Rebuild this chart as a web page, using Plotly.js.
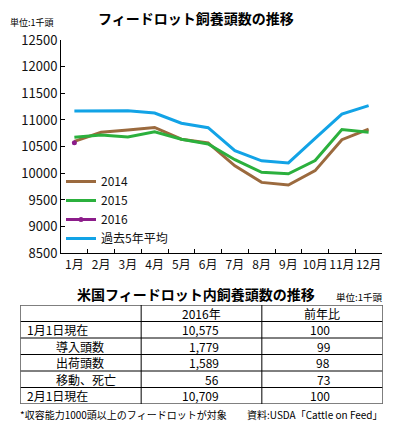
<!DOCTYPE html>
<html>
<head>
<meta charset="utf-8">
<script src="https://cdn.plot.ly/plotly-3.0.1.min.js"></script>
<style>html,body{margin:0;padding:0;background:#fff;}#chart{width:398px;height:424px;}</style>
</head>
<body>
<div id="chart"></div>
<script>
// ---- chart data ----
const months = ['1月','2月','3月','4月','5月','6月','7月','8月','9月','10月','11月','12月'];
const y2014 = [10600, 10770, 10810, 10860, 10640, 10570, 10140, 9830, 9780, 10050, 10630, 10830];
const y2015 = [10675, 10720, 10680, 10780, 10640, 10550, 10255, 10020, 9990, 10240, 10820, 10770];
const y2016 = [10575];
const yAvg  = [11170, 11170, 11175, 11130, 10940, 10855, 10425, 10235, 10195, 10655, 11110, 11270];
const seriesNames = ['2014', '2015', '2016', '過去5年平均'];

// ---- table data ----
const tableHeader = ['', '2016年', '前年比'];
const rowLabels = ['1月1日現在', '導入頭数', '出荷頭数', '移動、死亡', '2月1日現在'];
const heads2016 = ['10,575', '1,779', '1,589', '56', '10,709'];
const yoyRatio = [100, 99, 98, 73, 100];

const FONT = '"Noto Sans CJK JP", "Noto Sans", sans-serif';
const W = 398, H = 424;
const px = v => v / W;
const py = v => 1 - v / H;

const colors = ['#9b6a3e', '#2bb03d', '#8c1c8a', '#12a3e6'];

const traces = [
  {x: months, y: y2014, name: seriesNames[0], type: 'scatter', mode: 'lines', line: {color: colors[0], width: 3}},
  {x: months, y: y2015, name: seriesNames[1], type: 'scatter', mode: 'lines', line: {color: colors[1], width: 3}},
  {x: months.slice(0, y2016.length), y: y2016, name: seriesNames[2], type: 'scatter', mode: 'lines+markers', line: {color: colors[2], width: 3}, marker: {color: colors[2], size: 5}},
  {x: months, y: yAvg, name: seriesNames[3], type: 'scatter', mode: 'lines', line: {color: colors[3], width: 3}}
];

// ---- table built on its own axis pair (columns 0..3, rows 0..n) ----
const colValues = [rowLabels, heads2016, yoyRatio.map(String)];
const nCols = tableHeader.length;
const nRows = rowLabels.length + 1;
const tShapes = [];
for (let r = 0; r <= nRows; r++) {
  tShapes.push({type: 'line', xref: 'x2', yref: 'y2', x0: 0, x1: nCols, y0: r, y1: r, line: {color: '#000', width: 1}});
}
for (let c = 0; c <= nCols; c++) {
  tShapes.push({type: 'line', xref: 'x2', yref: 'y2', x0: c, x1: c, y0: 0, y1: nRows, line: {color: '#000', width: 1}});
}
const cellFont = {family: FONT, size: 12, color: '#000'};
const tAnn = [];
tableHeader.forEach((h, c) => {
  if (h) tAnn.push({text: h, xref: 'x2', yref: 'y2', x: c + 0.5, y: 0.5, xanchor: 'center', yanchor: 'middle', showarrow: false, font: cellFont});
});
rowLabels.forEach((lab, i) => {
  const sub = lab.indexOf('現在') < 0;
  tAnn.push({text: lab, xref: 'x2', yref: 'y2', x: 0, y: i + 1.5, xanchor: 'left', yanchor: 'middle', xshift: sub ? 33 : 4, showarrow: false, font: cellFont});
});
const rightEdge = [null, 1.66, 2.585];
for (let c = 1; c < nCols; c++) {
  colValues[c].forEach((v, i) => {
    tAnn.push({text: v, xref: 'x2', yref: 'y2', x: rightEdge[c], y: i + 1.5, xanchor: 'right', yanchor: 'middle', showarrow: false, font: cellFont});
  });
}

const layout = {
  width: W, height: H,
  margin: {l: 0, r: 0, t: 0, b: 0},
  paper_bgcolor: '#fff', plot_bgcolor: 'rgba(0,0,0,0)',
  font: {family: FONT, size: 12, color: '#111'},
  showlegend: true,
  legend: {
    x: px(61), y: py(167), xanchor: 'left', yanchor: 'top',
    bgcolor: 'rgba(0,0,0,0)', borderwidth: 0,
    font: {family: FONT, size: 12, color: '#111'},
    traceorder: 'normal'
  },
  xaxis: {
    domain: [px(61), px(382)],
    type: 'category',
    range: [-0.5, 11.5],
    showline: true, linecolor: '#000', linewidth: 1,
    ticks: 'inside', ticklen: 4, tickcolor: '#000', tickson: 'boundaries',
    tickangle: 0,
    showgrid: false, zeroline: false,
    tickfont: {family: FONT, size: 12, color: '#111'},
    fixedrange: true
  },
  yaxis: {
    domain: [py(253.3), py(40)],
    range: [8500, 12500], dtick: 500, tick0: 8500,
    tickformat: 'd',
    showline: true, linecolor: '#000', linewidth: 1,
    ticks: 'inside', ticklen: 4, tickcolor: '#000',
    showgrid: false, zeroline: false,
    tickfont: {family: FONT, size: 13, color: '#111'},
    fixedrange: true
  },
  xaxis2: {domain: [px(20.5), px(382.5)], range: [0, nCols], visible: false, fixedrange: true, anchor: 'y2'},
  yaxis2: {domain: [py(404), py(305)], range: [nRows, 0], visible: false, fixedrange: true, anchor: 'x2'},
  shapes: tShapes,
  annotations: [
    {text: '<b>フィードロット飼養頭数の推移</b>', xref: 'paper', yref: 'paper', x: px(196), y: py(18), xanchor: 'center', yanchor: 'middle', showarrow: false, font: {family: FONT, size: 14, color: '#000'}},
    {text: '単位:1千頭', xref: 'paper', yref: 'paper', x: px(8), y: py(23), xanchor: 'left', yanchor: 'middle', showarrow: false, font: {family: FONT, size: 9, color: '#000'}},
    {text: '<b>米国フィードロット内飼養頭数の推移</b>', xref: 'paper', yref: 'paper', x: px(75), y: py(294), xanchor: 'left', yanchor: 'middle', showarrow: false, font: {family: FONT, size: 14, color: '#000'}},
    {text: '単位:1千頭', xref: 'paper', yref: 'paper', x: px(384), y: py(297), xanchor: 'right', yanchor: 'middle', showarrow: false, font: {family: FONT, size: 9.5, color: '#000'}},
    {text: '*収容能力1000頭以上のフィードロットが対象', xref: 'paper', yref: 'paper', x: px(18), y: py(414), xanchor: 'left', yanchor: 'middle', showarrow: false, font: {family: FONT, size: 10, color: '#000'}},
    {text: '資料:USDA「Cattle on Feed」', xref: 'paper', yref: 'paper', x: px(385), y: py(414), xanchor: 'right', yanchor: 'middle', showarrow: false, font: {family: FONT, size: 10, color: '#000'}}
  ].concat(tAnn)
};

// invisible trace to register the table axis pair
traces.push({x: [0], y: [0], xaxis: 'x2', yaxis: 'y2', type: 'scatter', mode: 'markers', marker: {opacity: 0}, showlegend: false, hoverinfo: 'skip'});

Plotly.newPlot('chart', traces, layout, {staticPlot: true, displayModeBar: false});
</script>
</body>
</html>
